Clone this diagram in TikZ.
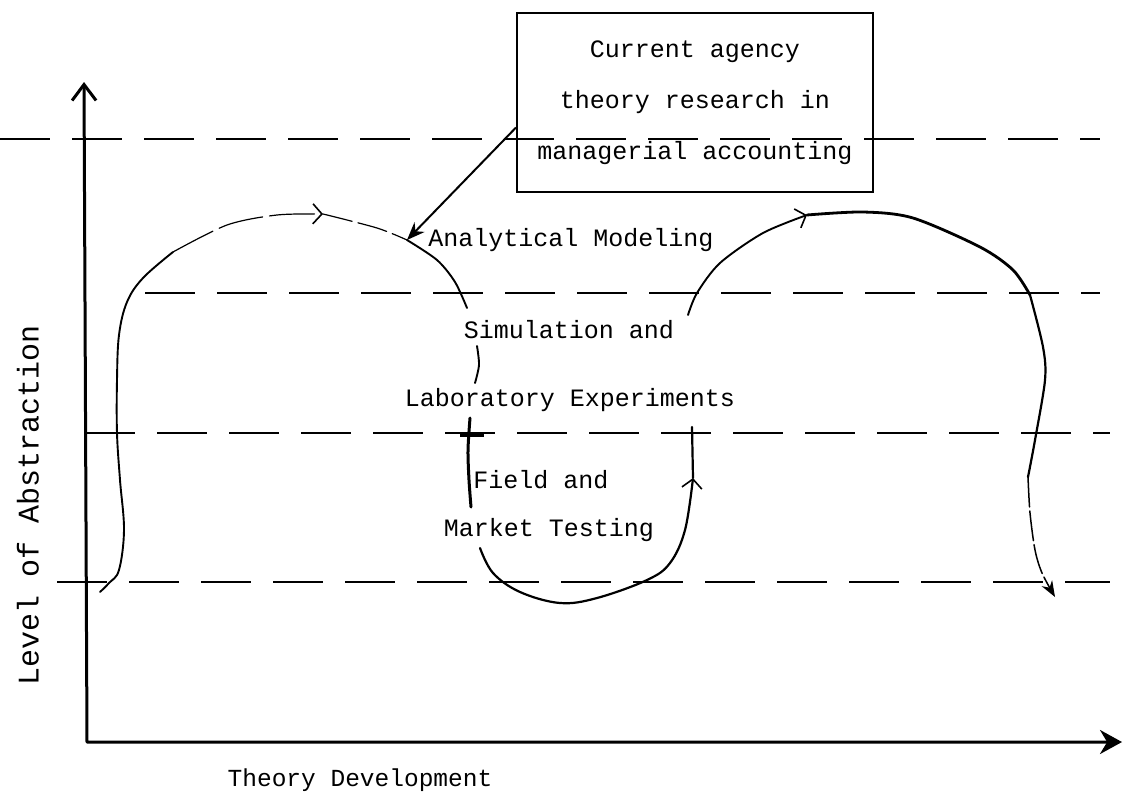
\documentclass[tikz,border=0pt]{standalone}
\usepackage{fontspec}
\newfontfamily\tw{Liberation Mono}
\usetikzlibrary{arrows.meta}

\begin{document}
\begin{tikzpicture}[x=1pt,y=-1pt,
	curve/.style={line width=1.9pt, line cap=round},
	lvl/.style={line width=1.2pt, dash pattern=on 50pt off 22pt},
	txt/.style={font=\tw\fontsize{25}{30}\selectfont, inner sep=0pt},
	barb/.style={-{Straight Barb[length=9pt,width=20pt,line width=1.6pt]}}]
	\useasboundingbox (0,0) rectangle (1123,798);
	% levels of abstraction
	\foreach \y/\xa/\xb in {139/0/1100, 293/145/1100, 433/85/1110, 582/57/1110}
		\draw[lvl] (\xa,\y) -- (\xb,\y);
	% axes
	\coordinate (O) at (87,742);
	\coordinate (Ytop) at (84,82);
	\coordinate (Xend) at (1122,742);
	\draw[line width=3pt, line join=round, {Straight Barb[length=16pt,width=24pt]}-{Stealth[length=22pt,width=24pt]}] (Ytop) -- (O) -- (Xend);
	\node (yl) at (28,505)	[txt, rotate=90, font=\tw\fontsize{30}{36}\selectfont]	{Level of Abstraction};
	\node (xl) at (360,780)	[txt, font=\tw\fontsize{24.5}{30}\selectfont]	{Theory Development};
	% stages
	\node (AM) at (571,240)	[txt]	{Analytical Modeling};
	\node (SA) at (569,330)	[txt]	{Simulation and};
	\node (LE) at (570,400)	[txt]	{Laboratory Experiments};
	\node (FA) at (541,480)	[txt]	{Field and};
	\node (MT) at (549,530)	[txt]	{Market Testing};
	\node (box) at (695,102.5)	[draw, line width=2pt, minimum width=356pt, minimum height=179pt, align=center, font=\tw\fontsize{25}{51}\selectfont]	{Current agency\\theory research in\\managerial accounting};
	\coordinate (star) at (407,240);
	\draw[line width=2pt, -{Stealth[length=18pt,width=14pt]}] ([yshift=-25pt]box.west) -- (star);
	% left loop
	\draw[curve] plot[smooth, tension=0.6] coordinates {(100,592) (109,583) (119,570) (124,530) (120,480) (117,433) (117,380) (119,335) (127,302) (143,278) (173,252)};
	\draw[curve, line width=1.2pt, dash pattern=on 45pt off 7pt, barb] plot[smooth] coordinates {(173,252) (227,225) (277,215) (323,214)};
	\draw[curve, line width=1.2pt, dash pattern=on 30pt off 6pt] plot[smooth] coordinates {(323,214) (377,228) (407,240)};
	\draw[curve] plot[smooth] coordinates {(407,240) (437,260) (455,282) (467,308)};
	\draw[curve] plot[smooth] coordinates {(477,346) (479,365) (475,383)};
	\draw[curve, line width=3pt] plot[smooth] coordinates {(470,418) (468,450) (469,480) (471,507)};
	\draw[line width=3pt] (460,435) -- (484,435);
	% bottom loop
	\draw[curve, line width=2.2pt, barb] plot[smooth, tension=0.6] coordinates {(480,548) (493,573) (520,592) (560,603) (597,598) (647,580) (670,563) (685,530) (693,478)};
	\draw[curve, line width=2.2pt] (693,478) -- (692,427);
	% right loop
	\draw[curve, barb] plot[smooth] coordinates {(688,315) (697,293) (720,263) (763,233) (807,215)};
	\draw[curve, line width=2.8pt] plot[smooth] coordinates {(807,215) (863,212) (913,218) (980,247) (1013,270) (1030,295)};
	\draw[curve, line width=2.2pt] plot[smooth] coordinates {(1030,295) (1043,347) (1045,380) (1035,440) (1028,477)};
	\draw[curve, line width=1.5pt, dash pattern=on 30pt off 4pt, -{Stealth[length=16pt,width=12pt]}] plot[smooth] coordinates {(1028,477) (1030,513) (1035,550) (1042,573) (1055,597)};
\end{tikzpicture}
\end{document}
